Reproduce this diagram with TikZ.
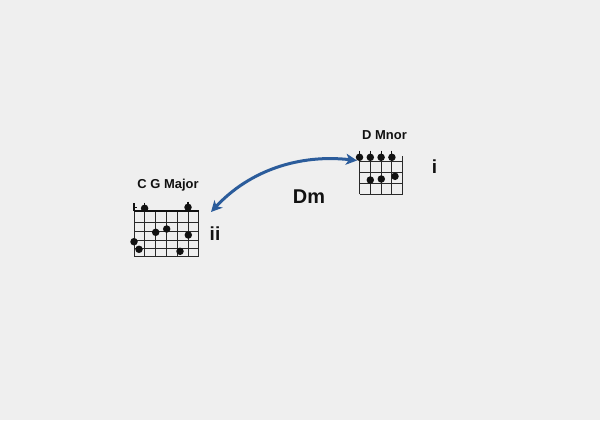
\documentclass[tikz,border=0pt]{standalone}
\usepackage{fontspec}
\setmainfont{Liberation Sans}
\usetikzlibrary{arrows.meta}
\definecolor{bgc}{HTML}{EFEFEF}
\definecolor{arrowblue}{HTML}{2B5C9B}
\definecolor{ink}{HTML}{111111}
\tikzset{
  gridline/.style={draw=ink!90, line width=1bp},
  topline/.style={draw=ink, line width=1.5bp},
  fdot/.style={circle, fill=ink, inner sep=0pt, minimum size=7.5bp},
  stem/.style={draw=ink, line width=1.1bp},
  lbl/.style={font=\bfseries\fontsize{13}{15}\selectfont, text=ink, inner sep=0pt},
  roman/.style={font=\bfseries\fontsize{19}{21}\selectfont, text=ink, inner sep=0pt},
  link/.style={draw=arrowblue, line width=3bp, {Stealth[length=11bp,width=11bp,inset=3bp]}-{Stealth[length=11bp,width=11bp,inset=3bp]}}
}
\begin{document}
\begin{tikzpicture}[x=1bp,y=-1bp]
\fill[bgc] (0,0) rectangle (600,420);
\useasboundingbox (0,0) rectangle (600,420);

% ---- left chord (C G Major)
\node[lbl] (cglabel) at (168,185) {C G Major};
\foreach \x in {134,144.8,155.6,166.4,177.2,188,198.8}
  \draw[gridline] (\x,211) -- (\x,256.5);
\foreach \y in {222,231,240,248,256.5}
  \draw[gridline] (134,\y) -- (198.8,\y);
\draw[topline] (134,211) -- (198.8,211);
\draw[stem] (134,203) -- (134,211);
\draw[stem] (134,207.3) -- (137,207.3);
\draw[stem] (144.6,202.5) -- (144.6,208);
\draw[stem] (188,201.5) -- (188,207);
\node[fdot] (l1) at (144.6,208.3) {};
\node[fdot] (l2) at (188,207.3) {};
\node[fdot] (l3) at (155.7,232.3) {};
\node[fdot] (l4) at (166.7,229) {};
\node[fdot] (l5) at (188.3,235) {};
\node[fdot] (l6) at (134,241.7) {};
\node[fdot] (l7) at (139,249.3) {};
\node[fdot] (l8) at (180,251.3) {};
\node[roman] (iiL) at (215,234) {ii};

% ---- right chord (D Mnor)
\node[lbl] (dmlabel) at (384.5,135.5) {D Mnor};
\foreach \x in {359.5,370.3,381.1,391.9,402.7}
  \draw[gridline] (\x,156) -- (\x,194.3);
\foreach \y in {161.7,172.7,183.5,194.3}
  \draw[gridline] (359.5,\y) -- (402.7,\y);
\foreach \x in {359.5,370.3,381.1,391.9}
  \draw[stem] (\x,150.5) -- (\x,157);
\node[fdot] (r1) at (359.5,157.3) {};
\node[fdot] (r2) at (370.3,157.3) {};
\node[fdot] (r3) at (381.1,157.3) {};
\node[fdot] (r4) at (391.9,157.3) {};
\node[fdot] (r5) at (370.3,180) {};
\node[fdot] (r6) at (381.3,179) {};
\node[fdot] (r7) at (395,176.3) {};
\node[roman] (iR) at (434.5,166.5) {i};

% ---- connector
\node[font=\bfseries\fontsize{20}{22}\selectfont, text=ink, inner sep=0pt] (dm) at (309,197) {Dm};
\coordinate (cgend) at (211,212);
\coordinate (dmend) at (357,160.5);
\draw[link] (cgend) .. controls (250,170) and (300,154) .. (dmend);
\end{tikzpicture}
\end{document}
